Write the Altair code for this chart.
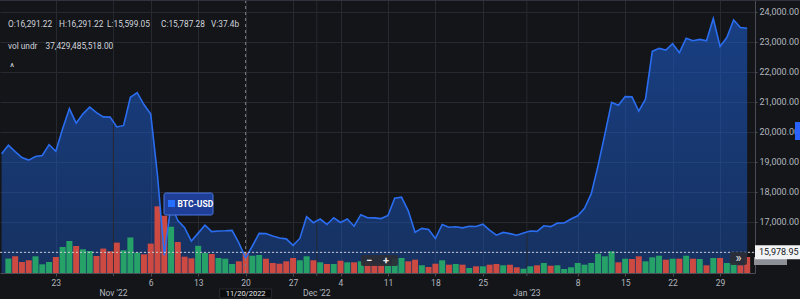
import altair as alt
import pandas as pd

# ---------------- data ----------------
price_start = "2022-10-15"
prices = [
    19268, 19550, 19334, 19139, 19053, 19172, 19208, 19567, 19345, 20095,
    20771, 20285, 20595, 20818, 20635, 20495, 20485,                      # Oct 15-31
    20159, 20209, 21148, 21300, 20905, 20592, 18541, 15880, 17587, 17034,
    16800, 16353, 16619, 16884, 16670, 16688, 16697, 16712, 16291, 15787,
    16190, 16611, 16604, 16522, 16458, 16428, 16213, 16442, 17168, 16968,  # Nov
    17088, 16908, 17130, 16975, 17089, 16848, 17233, 17133, 17128, 17104,
    17206, 17782, 17815, 17364, 16648, 16777, 16739, 16439, 16906, 16817,
    16830, 16796, 16847, 16841, 16919, 16717, 16552, 16642, 16602, 16547,
    16625,                                                                 # Dec
    16688, 16679, 16863, 16836, 16951, 16955, 17091, 17196, 17446, 17934,
    18869, 19909, 20976, 20880, 21169, 21161, 20688, 21086, 22676, 22777,
    22720, 22934, 22636, 23117, 23032, 23078, 23031, 23775, 22841, 23139,
    23723,                                                                 # Jan
    23471, 23449,                                                          # Feb 1-2
]
volume_start = "2022-10-16"
volumes_b = [
    26.5, 30.7, 20.2, 23.4, 30.7, 16.0, 20.2, 29.4, 47.8, 58.9,
    49.7, 43.6, 40.5, 31.3, 44.9, 39.9, 55.9, 41.8, 65.1, 37.5,
    34.4, 54.1, 122.7, 105.4, 85.2, 57.0, 30.0, 27.0, 50.0, 36.8,
    35.0, 27.6, 26.3, 16.6, 21.5, 37.4, 31.8, 33.1, 26.3, 18.4,
    17.1, 21.5, 27.6, 23.4, 30.7, 23.4, 19.7, 16.6, 16.6, 22.6,
    19.7, 19.7, 21.5, 22.1, 16.6, 16.6, 16.6, 26.3, 27.6, 21.5,
    24.5, 14.2, 11.0, 17.1, 23.4, 15.3, 16.6, 15.3, 9.2, 12.3,
    12.3, 15.3, 16.6, 14.2, 15.3, 10.5, 7.9, 12.3, 14.2, 18.4,
    13.4, 14.2, 7.4, 10.5, 18.4, 15.3, 18.4, 35.5, 30.7, 39.9,
    19.7, 26.3, 25.8, 30.7, 21.5, 28.9, 31.8, 24.5, 26.3, 26.3,
    31.8, 26.3, 25.8, 14.2, 27.6, 27.6, 18.4, 18.4, 14.2, 29.4,
]
price_ticks = [16000, 17000, 18000, 19000, 20000, 21000, 22000, 23000, 24000]
day_ticks = ["2022-10-23", "2022-11-06", "2022-11-13", "2022-11-20", "2022-11-27",
             "2022-12-04", "2022-12-11", "2022-12-18", "2022-12-25",
             "2023-01-08", "2023-01-15", "2023-01-22", "2023-01-29"]
month_bounds = ["2022-10-31T12:00:00Z", "2022-11-30T12:00:00Z", "2022-12-31T12:00:00Z"]
month_labels = ["Nov '22", "Dec '22", "Jan '23"]
cross_date = "2022-11-20"
cross_price = 15978.95
header_fields = ["O:16,291.22", "H:16,291.22", "L:15,599.05", "C:15,787.28", "V:37.4b"]
vol_line = ["vol undr", "37,429,485,518.00"]

# ---------------- frames ----------------
pdates = pd.date_range(price_start, periods=len(prices), freq="D")
price_df = pd.DataFrame({"date": [d.strftime("%Y-%m-%dT00:00:00Z") for d in pdates],
                         "price": prices})
vdates = pd.date_range(volume_start, periods=len(volumes_b), freq="D")
dirs = ["up" if prices[i + 1] >= prices[i] else "down" for i in range(len(volumes_b))]
vol_df = pd.DataFrame({"date": [d.strftime("%Y-%m-%dT00:00:00Z") for d in vdates],
                       "vol": volumes_b, "dir": dirs})
month_df = pd.DataFrame({"date": month_bounds, "label": month_labels})
cross_df = pd.DataFrame({"date": [cross_date + "T00:00:00Z"], "price": [cross_price],
                         "label": ["11/20/2022"], "plabel": ["15,978.95"]})


def ms(s):
    return int(pd.Timestamp(s, tz="UTC").value // 10**6)


W, H = 755, 273
BG = "#131519"
GRID = "#262930"
AXC = "#4a4d55"
LAB = "#b2b5be"
TXT = "#d1d4dc"
FONT = "Roboto"
BLUE = "#2a6df0"

x_scale = alt.Scale(type="utc", domain=[ms("2022-10-15T12:00:00"), ms("2023-02-02T10:00:00")])
p_scale = alt.Scale(domain=[15290, 24390], nice=False, zero=False)
v_scale = alt.Scale(domain=[0, 502.3], nice=False, zero=True)

x_axis = alt.Axis(values=[ms(d) for d in day_ticks], format="%-d", title=None, grid=True,
                  gridColor=GRID, domainColor=AXC, tickColor=AXC, tickSize=3,
                  labelColor=LAB, labelFontSize=8.5, labelFont=FONT, labelPadding=2,
                  labelFlush=False, labelOverlap=False)
y_axis = alt.Axis(values=price_ticks, format=",.2f", orient="right", title=None, grid=True,
                  gridColor=GRID, domainColor=AXC, tickColor=AXC, tickSize=2,
                  labelColor=LAB, labelFontSize=9, labelFont=FONT, labelPadding=2,
                  labelAlign="left", labelBaseline="middle", labelFlush=False,
                  labelOverlap=False)

xe = alt.X("date:T", scale=x_scale, axis=x_axis)

area = alt.Chart(price_df).mark_area(
    clip=True,
    color=alt.Gradient(gradient="linear",
                       stops=[alt.GradientStop(color="rgba(28,90,200,0.07)", offset=0),
                              alt.GradientStop(color="rgba(28,90,200,0.60)", offset=1)],
                       x1=1, x2=1, y1=1, y2=0),
).encode(x=xe,
         y=alt.Y("price:Q", scale=p_scale, axis=y_axis),
         y2=alt.value(H))

month_grid = alt.Chart(month_df).mark_rule(color=GRID, strokeWidth=1).encode(
    x=xe, y=alt.value(0), y2=alt.value(H))
month_tick = alt.Chart(month_df).mark_rule(color=AXC, strokeWidth=1).encode(
    x=xe, y=alt.value(H), y2=alt.value(H + 3))
month_text = alt.Chart(month_df).mark_text(
    fontSize=8.5, font=FONT, color=LAB, baseline="middle", align="center").encode(
    x=xe, y=alt.value(H + 20), text="label:N")

bars = alt.Chart(vol_df).mark_bar(size=6, clip=True).encode(
    x=xe,
    y=alt.Y("vol:Q", scale=v_scale, axis=None),
    color=alt.Color("dir:N", scale=alt.Scale(domain=["up", "down"],
                                            range=["#26a269", "#cc4a42"]), legend=None))

line = alt.Chart(price_df).mark_line(clip=True, color=BLUE, strokeWidth=1.6).encode(
    x=xe, y=alt.Y("price:Q", scale=p_scale, axis=None))

vcross = alt.Chart(cross_df).mark_rule(color="#7d8089", strokeDash=[3, 3]).encode(
    x=xe, y=alt.value(0), y2=alt.value(H))
hcross = alt.Chart(cross_df).mark_rule(color="#c9cbd0", strokeDash=[2, 2]).encode(
    y=alt.Y("price:Q", scale=p_scale, axis=None), x=alt.value(0), x2=alt.value(W))

date_box = alt.Chart(cross_df).mark_rect(color="#0a0b0d", stroke="#2e3139", strokeWidth=0.8,
                                         xOffset=-26, x2Offset=26).encode(
    x=xe, x2="date:T", y=alt.value(289), y2=alt.value(298))
date_txt = alt.Chart(cross_df).mark_text(fontSize=7.5, font=FONT, color="#e6e7ea",
                                         baseline="middle").encode(
    x=xe, y=alt.value(293.5), text="label:N")


def box(x, x2, y, y2, fill, **kw):
    return alt.Chart(pd.DataFrame({"a": [0]})).mark_rect(color=fill, **kw).encode(
        x=alt.value(x), x2=alt.value(x2), y=alt.value(y), y2=alt.value(y2))


def txt(s, x, y, size=8.3, color=TXT, align="left", weight="normal"):
    return alt.Chart(pd.DataFrame({"t": [s]})).mark_text(
        align=align, baseline="middle", fontSize=size, color=color, font=FONT,
        fontWeight=weight).encode(x=alt.value(x), y=alt.value(y), text="t:N")


gray_box = box(754, 787, 257, 265, "#8d9097")
pbox = alt.Chart(cross_df).mark_rect(color="#f2f3f5", yOffset=-7, y2Offset=7).encode(
    x=alt.value(W), x2=alt.value(W + 50),
    y=alt.Y("price:Q", scale=p_scale, axis=None), y2="price:Q")
ptxt = alt.Chart(cross_df).mark_text(fontSize=9, font=FONT, color="#131722", align="left",
                                     baseline="middle").encode(
    x=alt.value(W + 4), y=alt.Y("price:Q", scale=p_scale, axis=None), text="plabel:N")

blue_mark = box(795, 805, 122, 140, "#2962ff")
top_border = alt.Chart(pd.DataFrame({"a": [0]})).mark_rule(color="#30333b").encode(
    x=alt.value(0), x2=alt.value(W + 45), y=alt.value(0.5))

hx = [8, 59, 107, 161, 211]
headers = [txt(s, x, 25) for s, x in zip(header_fields, hx)]
vols = [txt(vol_line[0], 8, 47), txt(vol_line[1], 45.5, 47)]
caret = txt("^", 10, 68, size=10)

legend_box = box(164, 213, 193, 215, "#1f3e98", stroke="#4a78e0", strokeWidth=1,
                 cornerRadius=2)
legend_sq = box(168, 175, 200, 207, "#2570ff")
legend_txt = txt("BTC-USD", 177.5, 204, size=8.5, color="#ffffff", weight="bold")

zoom_box = box(361, 398, 255, 266, "#2a2d35", opacity=0.92, cornerRadius=2)
zoom_minus = txt("\u2212", 369, 260.5, size=11, color="#e8e8ea", align="center", weight="bold")
zoom_plus = txt("+", 386, 260.5, size=11, color="#e8e8ea", align="center", weight="bold")

ff_box = box(730, 747, 252, 265, "#2a2d35", opacity=0.92, cornerRadius=2)
ff_txt = txt("\u00bb", 738.5, 257.5, size=13, color="#e8e8ea", align="center")

chart = alt.layer(
    area, month_grid, month_tick, month_text, bars, line, vcross, hcross,
    date_box, date_txt, gray_box, pbox, ptxt, blue_mark, top_border,
    *headers, *vols, caret, legend_box, legend_sq, legend_txt,
    zoom_box, zoom_minus, zoom_plus, ff_box, ff_txt,
).resolve_scale(y="independent").properties(
    width=W, height=H,
    autosize=alt.AutoSizeParams(type="none"),
    padding={"left": 0, "top": 0, "right": 45, "bottom": 26},
    background=BG,
).configure_view(stroke=None).configure_text(font=FONT)

chart.save("out.html", embed_options={"renderer": "svg", "actions": False})
